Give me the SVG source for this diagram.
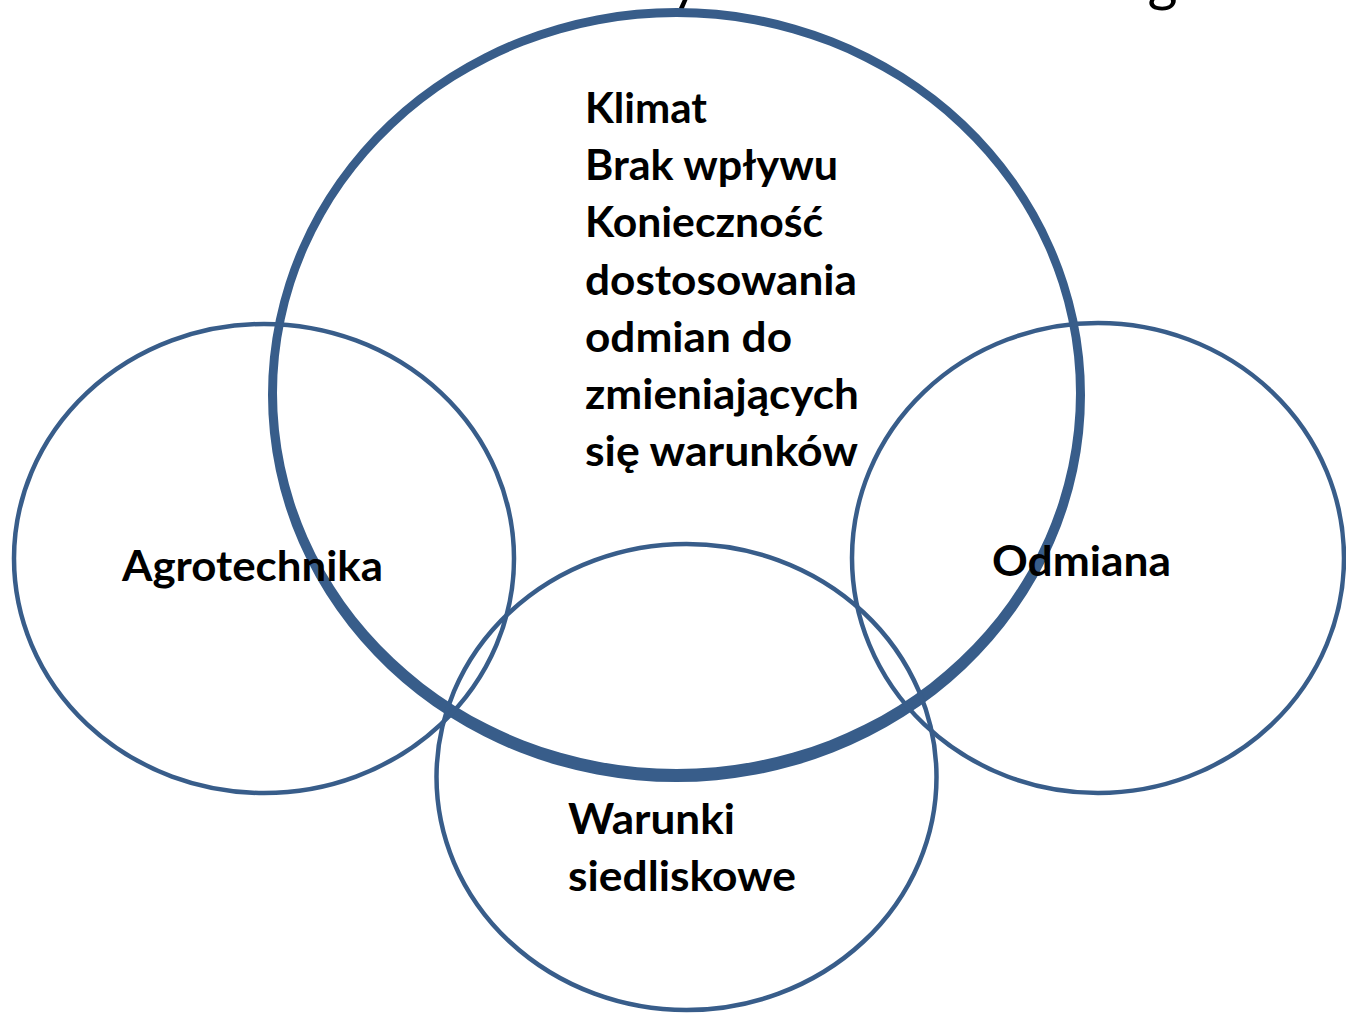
<svg xmlns="http://www.w3.org/2000/svg" width="1346" height="1013" viewBox="0 0 1346 1013">
  <style>
    .ring { fill: none; stroke: #385D8A; stroke-width: 4.5; }
    .bigring { fill: #385D8A; fill-rule: evenodd; stroke: none; }
    .lbl { font-family: Lato, "Liberation Sans", sans-serif; font-weight: bold; font-size: 42px; fill: #000000; }
    .title { font-family: Lato, "Liberation Sans", sans-serif; font-size: 58px; fill: #000000; }
  </style>
  <rect width="1346" height="1013" fill="#FFFFFF"/>
  <text class="title" x="159" y="0" textLength="1051" lengthAdjust="spacingAndGlyphs">Wzrost znaczenia czynnika odmianowego</text>

  <g id="klimat">
    <path class="bigring" d="M268,395 a408.5,387 0 1,0 817,0 a408.5,387 0 1,0 -817,0 Z M277,393 a399.5,376 0 1,0 799,0 a399.5,376 0 1,0 -799,0 Z"/>
    <text class="lbl" x="585" y="123" textLength="122" lengthAdjust="spacingAndGlyphs">Klimat</text>
    <text class="lbl" x="585" y="180" textLength="253" lengthAdjust="spacingAndGlyphs">Brak wpływu</text>
    <text class="lbl" x="585" y="237" textLength="238" lengthAdjust="spacingAndGlyphs">Konieczność</text>
    <text class="lbl" x="585" y="295" textLength="272" lengthAdjust="spacingAndGlyphs">dostosowania</text>
    <text class="lbl" x="585" y="352" textLength="207" lengthAdjust="spacingAndGlyphs">odmian do</text>
    <text class="lbl" x="585" y="409" textLength="274" lengthAdjust="spacingAndGlyphs">zmieniających</text>
    <text class="lbl" x="585" y="466" textLength="273" lengthAdjust="spacingAndGlyphs">się warunków</text>
  </g>

  <g id="agrotechnika">
    <ellipse class="ring" cx="264" cy="558.5" rx="250" ry="234.5"/>
    <text class="lbl" x="122" y="581" textLength="261" lengthAdjust="spacingAndGlyphs">Agrotechnika</text>
  </g>

  <g id="odmiana">
    <ellipse class="ring" cx="1098" cy="558" rx="246" ry="235"/>
    <text class="lbl" x="992" y="576" textLength="179" lengthAdjust="spacingAndGlyphs">Odmiana</text>
  </g>

  <g id="warunki">
    <ellipse class="ring" cx="686.5" cy="777" rx="250" ry="233"/>
    <text class="lbl" x="568" y="834" textLength="167" lengthAdjust="spacingAndGlyphs">Warunki</text>
    <text class="lbl" x="568" y="891" textLength="228" lengthAdjust="spacingAndGlyphs">siedliskowe</text>
  </g>

  <g id="connectors"/>
</svg>
